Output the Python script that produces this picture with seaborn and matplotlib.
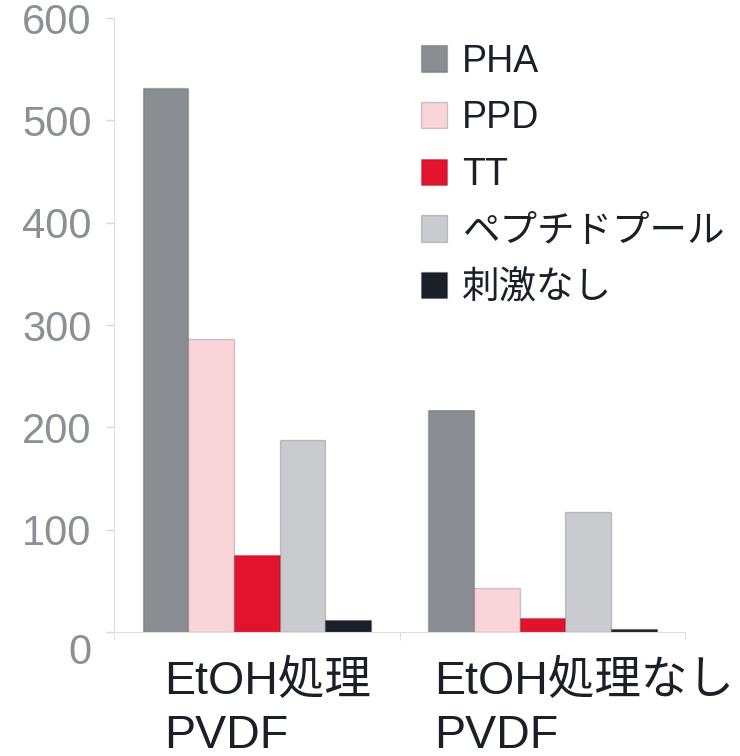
import pandas as pd
import seaborn as sns
import matplotlib.pyplot as plt
import matplotlib.transforms as mtransforms
from matplotlib.patches import Patch

# values
groups = ["EtOH処理\nPVDF", "EtOH処理なし\nPVDF"]
stimuli = ["PHA", "PPD", "TT", "ペプチドプール", "刺激なし"]
etoh_vals = [532, 286, 75, 188, 12]
no_etoh_vals = [217, 43, 14, 117, 3]
colors = ["#8a8d91", "#f9d4d9", "#e3132d", "#c9cbce", "#1b2028"]

rows = []
for s, a, b in zip(stimuli, etoh_vals, no_etoh_vals):
    rows.append({"group": groups[0], "stim": s, "value": a})
    rows.append({"group": groups[1], "stim": s, "value": b})
df = pd.DataFrame(rows)

sns.set_style("white")
plt.rcParams['font.family'] = ['Liberation Sans', 'Noto Sans CJK JP', 'DejaVu Sans']

fig = plt.figure(figsize=(7.4, 7.56), dpi=100)
ax = fig.add_axes([0.154, 0.164, 0.772, 0.812])

sns.barplot(data=df, x="group", y="value", hue="stim", order=groups,
            hue_order=stimuli, palette=colors, saturation=1, width=0.8,
            ax=ax, edgecolor="none", legend=False)

# thin darker outline, a nod to the bevelled bars
for bar in ax.patches:
    bar.set_edgecolor((0, 0, 0, 0.18))
    bar.set_linewidth(1.0)

ax.set_ylim(0, 600)
ax.set_xlim(-0.5, 1.5)
ax.set_yticks(range(0, 601, 100))
ax.tick_params(axis="y", labelsize=30, labelcolor="#8a9095", color="#d9d9d9",
               length=6, width=1, pad=10, left=True)
ax.tick_params(axis="x", labelsize=33.5, labelcolor="#1b2028", length=0, pad=20)
ax.set_xticks([-0.5, 0.5, 1.5], minor=True)
ax.tick_params(axis="x", which="minor", bottom=True, length=6, color="#d9d9d9")
ax.set_xlabel("")
ax.set_ylabel("")

# the category labels sit left aligned, a little left of the group centre
shifts = [-93, -108]
for lab, dx in zip(ax.get_xticklabels(), shifts):
    lab.set_horizontalalignment("left")
    lab.set_multialignment("left")
    lab.set_linespacing(1.3)
    lab.set_transform(lab.get_transform() +
                      mtransforms.ScaledTranslation(dx / 100, 0, fig.dpi_scale_trans))

# the zero label sits a bit below its tick
ax.get_yticklabels()[0].set_transform(
    ax.get_yticklabels()[0].get_transform() +
    mtransforms.ScaledTranslation(0, -16 / 100, fig.dpi_scale_trans))

for side in ["top", "right"]:
    ax.spines[side].set_visible(False)
ax.spines["left"].set_color("#e0e0e0")
ax.spines["bottom"].set_color("#e0e0e0")

handles = [Patch(facecolor=c, edgecolor=(0, 0, 0, 0.18)) for c in colors]
ax.legend(handles, stimuli, loc="upper left", bbox_to_anchor=(0.548, 0.962),
          bbox_transform=fig.transFigure, frameon=False, fontsize=27,
          handlelength=0.7, handleheight=0.7, handletextpad=0.4,
          labelspacing=0.55, borderaxespad=0, labelcolor="#1b2028")

fig.savefig("out.png", dpi=100)
